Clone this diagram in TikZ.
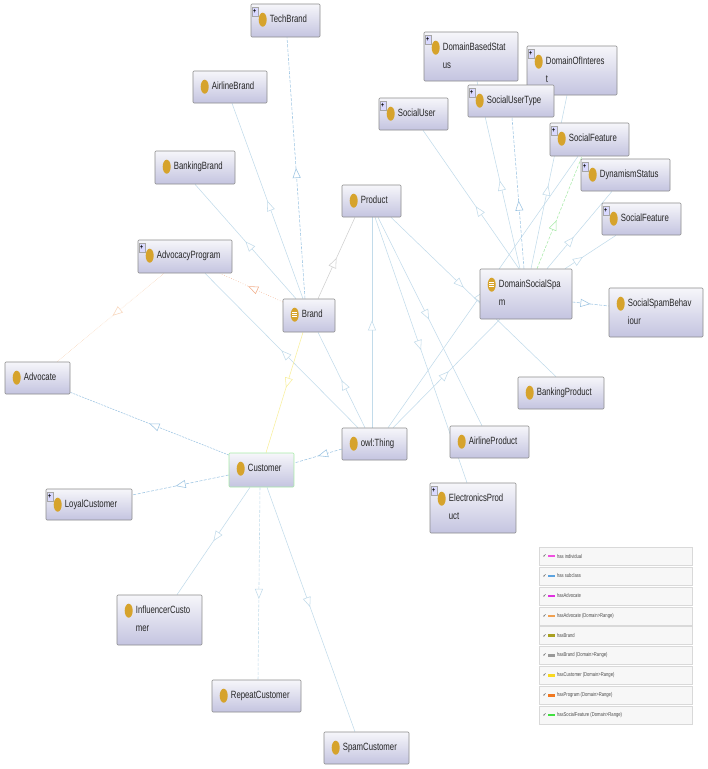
\documentclass[tikz,border=0pt]{standalone}
\usepackage{fontspec}
\setmainfont{Liberation Sans}[FakeStretch=0.74]
\newfontfamily\symfont{DejaVu Sans}
\usetikzlibrary{arrows.meta,decorations.markings,shapes.geometric,backgrounds,calc}
\definecolor{sb}{HTML}{C2DBEA}
\definecolor{db}{HTML}{9CC4E2}
\definecolor{gr}{HTML}{D0D0D0}
\definecolor{og}{HTML}{F8D6BC}
\definecolor{dog}{HTML}{F2AE8A}
\definecolor{ye}{HTML}{F8EF9C}
\definecolor{grn}{HTML}{A8EAA8}
\definecolor{ic}{HTML}{D6A32C}
\definecolor{boxtop}{HTML}{F6F6FA}
\definecolor{boxbot}{HTML}{C4C4E0}
\tikzset{
 box/.style={draw=black!45,line width=.6pt,rounded corners=1pt,top color=boxtop,bottom color=boxbot,inner sep=0pt},
 dotic/.style={ellipse,fill=ic,minimum width=8pt,minimum height=14pt,inner sep=0pt},
 lab/.style={anchor=north west,inner sep=0pt,font=\fontsize{10.5}{18}\selectfont,align=left,text=black!85},
 plusic/.style={draw=black!35,fill=blue!15,inner sep=0pt,minimum width=6pt,minimum height=9pt,font=\fontsize{7}{7}\selectfont\bfseries},
 edge/.style={draw=sb,line width=.55pt},
 hd/.style={postaction={decorate,decoration={markings,mark=at position #1 with {\arrow{Triangle[open,length=10pt,width=8pt,fill=white]}}}}},
 dsh/.style={dash pattern=on 3pt off 1.5pt},
 legrowbox/.style={draw=black!15,fill=black!3,minimum width=153pt,minimum height=18pt,inner sep=0pt},
 legtext/.style={anchor=west,inner sep=0pt,font=\fontsize{5.6}{6}\selectfont,text=black!70},
 swatch/.style={anchor=west,inner sep=0pt,minimum width=7pt,minimum height=2.4pt},
}
\newcommand\cls[7][]{%
 \node[box,#1,minimum width={(#5-#3)*1pt},minimum height={(#6-#4)*1pt}] (#2) at ({(#3+#5)/2},{(#4+#6)/2}) {};
 \node[dotic] (#2-i) at ([shift={(12,16)}]#2.north west) {};
 \node[lab] (#2-t) at ([shift={(19,11)}]#2.north west) {#7};
}
\newcommand\plusm[1]{\node[plusic] (#1-p) at ([shift={(4,8)}]#1.north west) {+};}
\newcommand\eqv[1]{\foreach \s in {-2,0,2}{\draw[white,line width=.5pt] ([shift={(-2.5,\s)}]#1-i.center) -- ([shift={(2.5,\s)}]#1-i.center);}}
\newcommand\legrow[2]{%
 \node[legrowbox] (r#1) at (615.5,{556+(#1-1)*19.9}) {};
 \node[inner sep=0pt,font=\symfont\fontsize{4.5}{5}\selectfont] (c#1) at ([xshift=6]r#1.west) {✓};
 \node[legtext] (t#1) at ([xshift=18]r#1.west) {#2};
}
\newcommand\legsw[4]{\node[swatch,fill={rgb,255:red,#2;green,#3;blue,#4}] (s#1) at ([xshift=9]r#1.west) {};}
\begin{document}
\begin{tikzpicture}[x=1pt,y=-1pt]
\useasboundingbox (0,0) rectangle (708,769);
% classes
\cls{tech}{251}{4}{320}{37}{TechBrand}\plusm{tech}
\cls{airb}{193}{71}{267}{103}{AirlineBrand}
\cls{bankb}{155}{151}{235}{184}{BankingBrand}
\cls{adv}{138}{240}{232}{273}{AdvocacyProgram}\plusm{adv}
\cls{prod}{342}{185}{401}{217}{Product}
\cls{brand}{283}{299}{335}{332}{Brand}\eqv{brand}
\cls{advo}{5}{362}{70}{394}{Advocate}
\cls[draw=grn]{cust}{229}{453}{294}{487}{Customer}
\cls{owl}{342}{428}{407}{460}{owl:Thing}
\cls{loyal}{46}{489}{132}{520}{LoyalCustomer}\plusm{loyal}
\cls{infl}{117}{595}{202}{645}{InfluencerCusto\\mer}
\cls{rep}{212}{680}{301}{712}{RepeatCustomer}
\cls{spam}{324}{732}{409}{764}{SpamCustomer}
\cls{elec}{430}{483}{516}{533}{ElectronicsProd\\uct}\plusm{elec}
\cls{airp}{450}{426}{529}{458}{AirlineProduct}
\cls{bankp}{518}{377}{604}{409}{BankingProduct}
\cls{dss}{480}{269}{572}{319}{DomainSocialSpa\\m}\eqv{dss}
\cls{ssb}{609}{288}{703}{337}{SocialSpamBehav\\iour}
\cls{doi}{527}{46}{617}{95}{DomainOfInteres\\t}\plusm{doi}
\cls{dbs}{424}{32}{518}{81}{DomainBasedStat\\us}\plusm{dbs}
\cls{sut}{468}{85}{554}{117}{SocialUserType}\plusm{sut}
\cls{su}{379}{98}{448}{130}{SocialUser}\plusm{su}
\cls{sf}{550}{123}{629}{156}{SocialFeature}\plusm{sf}
\cls{dyn}{581}{159}{670}{191}{DynamismStatus}\plusm{dyn}
\cls{sfb}{602}{203}{681}{235}{SocialFeature}\plusm{sfb}
% connectors
\begin{scope}[on background layer]
\draw[edge,hd=.51] ([xshift=-2.5]owl.north) -- ([xshift=.5]prod.south);
\draw[edge,hd=.5] ([xshift=-9.5]owl.north) -- ([xshift=9]brand.south);
\draw[edge,hd=.5] ([xshift=-16.5]owl.north) -- ([xshift=20]adv.south);
\draw[edge,hd=.52] ([xshift=18.5]owl.north) -- ([xshift=-26]dss.south);
\draw[edge,hd=.5] ([xshift=13.5]owl.north) -- ([xshift=-11.5]sf.south);
\draw[edge,hd=.44] ([xshift=19.5]prod.south) -- ([xshift=-5]bankp.north);
\draw[edge,hd=.49] ([xshift=6.5]prod.south) -- ([xshift=-7.5]airp.north);
\draw[edge,hd=.5] ([xshift=3.5]prod.south) -- ([xshift=-6]elec.north);
\draw[edge,draw=gr,hd=.5] ([xshift=9]brand.north) -- ([xshift=-16.5]prod.south);
\draw[edge,draw=db,dsh,hd=.5] ([xshift=-4]brand.north) -- ([xshift=1.5]tech.south);
\draw[edge,hd=.5] ([xshift=-6]brand.north) -- ([xshift=2]airb.south);
\draw[edge,hd=.5] ([xshift=-13]brand.north) -- (bankb.south);
\draw[edge,draw=dog,dotted,hd=.55] ([yshift=13.5]brand.west) -- ([xshift=35]adv.south);
\draw[edge,draw=ye,hd=.46] ([xshift=-6]brand.south) -- ([xshift=4.5]cust.north);
\draw[edge,draw=og,densely dotted,hd=.48] ([xshift=-21]adv.south) -- ([xshift=19.5]advo.north);
\draw[edge,draw=db,dash pattern=on 2pt off 1pt,hd=.5] ([yshift=15]cust.west) -- ([yshift=2]advo.south east);
\draw[edge,draw=db,dsh,hd=.5] ([yshift=-5]owl.west) -- ([yshift=7]cust.east);
\draw[edge,draw=db,dsh,hd=.55] ([yshift=-5]cust.west) -- ([yshift=9.5]loyal.east);
\draw[edge,hd=.5] ([xshift=-11.5]cust.south) -- ([xshift=17.5]infl.north);
\draw[edge,dsh,hd=.58] ([xshift=-1.5]cust.south) -- ([xshift=1.5]rep.north);
\draw[edge,hd=.49] ([xshift=5.5]cust.south) -- ([xshift=-11.5]spam.north);
\draw[edge,hd=.45] ([xshift=-7]dss.north) -- ([xshift=9.5]su.south);
\draw[edge,hd=.47] ([xshift=-6]dss.north) -- ([xshift=6]dbs.south);
\draw[edge,dsh,draw=db,hd=.45] ([xshift=-2]dss.north) -- ([xshift=1]sut.south);
\draw[edge,hd=.48] ([xshift=5]dss.north) -- ([xshift=-5]doi.south);
\draw[edge,draw=grn,dsh,hd=.43] ([xshift=11]dss.north) -- ([xshift=-7.5]sf.south);
\draw[edge,hd=.41] ([xshift=21]dss.north) -- ([xshift=-13.5]dyn.south);
\draw[edge,hd=.35] ([xshift=39]dss.north) -- ([xshift=-25.5]sfb.south);
\draw[edge,draw=db,dsh,hd=.5] ([yshift=-8]dss.east) -- ([yshift=6.5]ssb.west);
\end{scope}
% legend
\legrow{1}{has individual}
\legrow{2}{has subclass}
\legrow{3}{hasAdvocate}
\legrow{4}{hasAdvocate (Domain>Range)}
\legrow{5}{hasBrand}
\legrow{6}{hasBrand (Domain>Range)}
\legrow{7}{hasCustomer (Domain>Range)}
\legrow{8}{hasProgram (Domain>Range)}
\legrow{9}{hasSocialFeature (Domain>Range)}
\legsw{1}{240}{80}{224}
\legsw{2}{91}{163}{224}
\legsw{3}{224}{48}{224}
\legsw{4}{240}{160}{80}
\legsw{5}{168}{160}{32}
\legsw{6}{153}{153}{153}
\legsw{7}{248}{216}{32}
\legsw{8}{240}{120}{32}
\legsw{9}{64}{224}{64}
\end{tikzpicture}
\end{document}
